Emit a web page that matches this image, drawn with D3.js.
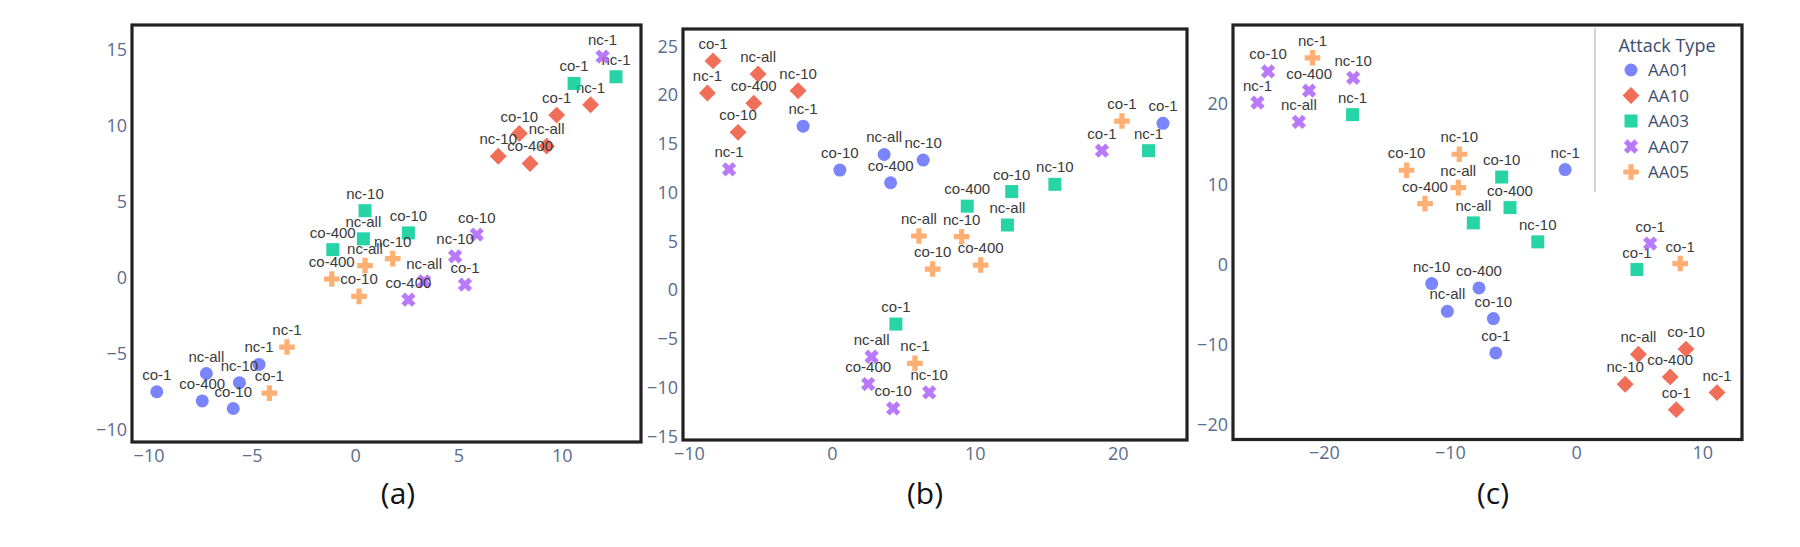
<!DOCTYPE html>
<html>
<head>
<meta charset="utf-8">
<script src="https://cdnjs.cloudflare.com/ajax/libs/d3/7.8.5/d3.min.js"></script>
<style>
    body { margin: 0; background: #fff; }
    #chart { width: 1800px; height: 547px; }
</style>
</head>
<body>
<div id="chart"></div>
<script>
// attack types (traces) and the run configs that label each point
let attackTypes = ["AA01", "AA10", "AA03", "AA07", "AA05"];
let configs = ["co-1", "co-10", "co-400", "nc-1", "nc-10", "nc-all"];

// x / y per panel, rows = attack type, columns = config
let aX = [
    [-9.6, -5.9, -7.4, -4.65, -5.6, -7.2],
    [9.76, 7.95, 8.47, 11.4, 6.93, 9.27],
    [10.6, 2.58, -1.08, 12.63, 0.48, 0.40],
    [5.32, 5.89, 2.58, 11.98, 4.84, 3.34],
    [-4.15, 0.19, -1.13, -3.3, 1.82, 0.48]
];
let aY = [
    [-7.5, -8.6, -8.1, -5.7, -6.9, -6.3],
    [10.68, 9.47, 7.5, 11.36, 7.98, 8.64],
    [12.76, 2.94, 1.84, 13.2, 4.4, 2.55],
    [-0.46, 2.83, -1.45, 14.52, 1.40, -0.24],
    [-7.59, -1.23, -0.09, -4.56, 1.25, 0.79]
];
let bX = [
    [23.16, 0.56, 4.11, -2.01, 6.39, 3.66],
    [-8.31, -6.56, -5.46, -8.70, -2.36, -5.16],
    [4.48, 12.58, 9.47, 22.15, 15.6, 12.28],
    [18.89, 4.29, 2.54, -7.19, 6.81, 2.78],
    [20.29, 7.05, 10.41, 5.81, 9.08, 6.09]
];
let bY = [
    [17.1, 12.3, 11.0, 16.8, 13.33, 13.9],
    [23.5, 16.17, 19.15, 20.2, 20.44, 22.15],
    [-3.49, 10.1, 8.6, 14.29, 10.84, 6.67],
    [14.29, -12.14, -9.64, 12.38, -10.5, -6.84],
    [17.33, 2.15, 2.56, -7.52, 5.47, 5.54]
];
let cX = [
    [-6.37, -6.56, -7.7, -0.87, -11.45, -10.21],
    [7.94, 8.71, 7.46, 11.17, 3.89, 4.94],
    [4.82, -5.9, -5.24, -17.72, -3.04, -8.15],
    [5.87, -24.42, -21.17, -25.26, -17.67, -21.98],
    [8.25, -13.44, -11.98, -20.9, -9.26, -9.34]
];
let cY = [
    [-11.08, -6.79, -2.96, 11.83, -2.42, -5.88],
    [-18.17, -10.6, -14.08, -16.04, -15.0, -11.25],
    [-0.66, 10.9, 7.08, 18.7, 2.8, 5.17],
    [2.59, 24.1, 21.7, 20.2, 23.3, 17.8],
    [0.09, 11.75, 7.58, 25.8, 13.75, 9.58]
];

// tick labels
let aXTicks = [-10, -5, 0, 5, 10];
let aYTicks = [-10, -5, 0, 5, 10, 15];
let bXTicks = [-10, 0, 10, 20];
let bYTicks = [-15, -10, -5, 0, 5, 10, 15, 20, 25];
let cXTicks = [-20, -10, 0, 10];
let cYTicks = [-20, -10, 0, 10, 20];
let panelNames = ["(a)", "(b)", "(c)"];

let colors = ["#636efa", "#EF553B", "#00cc96", "#ab63fa", "#FFA15A"];

// plotly-like marker shapes, size = marker diameter
let shapes = [
    { draw: function(ctx, s) { let r = s / 2; ctx.moveTo(r, 0); ctx.arc(0, 0, r, 0, 2 * Math.PI); } },
    { draw: function(ctx, s) { let r = s / 2 * 1.3; ctx.moveTo(r, 0); ctx.lineTo(0, r); ctx.lineTo(-r, 0); ctx.lineTo(0, -r); ctx.closePath(); } },
    { draw: function(ctx, s) { let r = s / 2; ctx.rect(-r, -r, 2 * r, 2 * r); } },
    { draw: function(ctx, s) {
        // filled x
        let r = s / 2, a = r * 0.8 / Math.SQRT2, b = r * 1.1;
        let pts = [[0, a], [b - a, b], [b, b - a], [a, 0], [b, a - b], [b - a, -b],
                   [0, -a], [a - b, -b], [-b, a - b], [-a, 0], [-b, b - a], [a - b, b]];
        ctx.moveTo(pts[0][0], pts[0][1]);
        pts.slice(1).forEach(function(p) { ctx.lineTo(p[0], p[1]); });
        ctx.closePath();
    } },
    { draw: function(ctx, s) {
        // filled plus
        let r = s / 2, c = r * 0.4, c2 = r * 1.2;
        let pts = [[c2, c], [c, c], [c, c2], [-c, c2], [-c, c], [-c2, c], [-c2, -c],
                   [-c, -c], [-c, -c2], [c, -c2], [c, -c], [c2, -c]];
        ctx.moveTo(pts[0][0], pts[0][1]);
        pts.slice(1).forEach(function(p) { ctx.lineTo(p[0], p[1]); });
        ctx.closePath();
    } }
];

let panels = [
    { xs: aX, ys: aY, xTicks: aXTicks, yTicks: aYTicks, left: 132, right: 641, top: 25, bottom: 442,
      xDom: [-10.8, 13.84], yDom: [-10.8, 16.6], nameX: 398 },
    { xs: bX, ys: bY, xTicks: bXTicks, yTicks: bYTicks, left: 683, right: 1187, top: 29, bottom: 440,
      xDom: [-10.41, 24.84], yDom: [-15.38, 26.77], nameX: 925 },
    { xs: cX, ys: cY, xTicks: cXTicks, yTicks: cYTicks, left: 1233, right: 1742, top: 25, bottom: 439.5,
      xDom: [-27.2, 13.15], yDom: [-21.9, 29.9], nameX: 1493 }
];

let svg = d3.select("#chart").append("svg")
    .attr("width", 1800)
    .attr("height", 547);

let tickColor = "#596c8c";
let symbol = d3.symbol().size(13);

panels.forEach(function(p, pi) {
    let x = d3.scaleLinear().domain(p.xDom).range([p.left, p.right]);
    let y = d3.scaleLinear().domain(p.yDom).range([p.bottom, p.top]);

    let g = svg.append("g").attr("class", "panel");

    // axes (labels only, no lines)
    let xAxis = g.append("g")
        .attr("transform", "translate(0," + (p.bottom + 7) + ")")
        .call(d3.axisBottom(x).tickValues(p.xTicks).tickSize(0).tickPadding(0));
    let yAxis = g.append("g")
        .attr("transform", "translate(" + (p.left - 5) + ",0)")
        .call(d3.axisLeft(y).tickValues(p.yTicks).tickSize(0).tickPadding(0));
    [xAxis, yAxis].forEach(function(ax) {
        ax.select(".domain").remove();
        ax.selectAll("text")
            .style("font-family", "'Open Sans', sans-serif")
            .style("font-size", "18px")
            .style("fill", tickColor);
    });
    xAxis.selectAll("text").attr("dy", "0.71em");

    // traces: markers then text, one group per attack type
    attackTypes.forEach(function(t, ti) {
        let pts = configs.map(function(c, ci) { return { label: c, x: p.xs[ti][ci], y: p.ys[ti][ci] }; });
        let tg = g.append("g").attr("class", t);
        tg.selectAll("path")
            .data(pts)
            .enter().append("path")
            .attr("transform", function(d) { return "translate(" + x(d.x) + "," + y(d.y) + ")"; })
            .attr("d", symbol.type(shapes[ti]))
            .style("fill", colors[ti])
            .style("opacity", 0.85);
        tg.selectAll("text")
            .data(pts)
            .enter().append("text")
            .attr("x", function(d) { return x(d.x); })
            .attr("y", function(d) { return y(d.y) - 12; })
            .attr("text-anchor", "middle")
            .style("font-family", "'Liberation Sans', Arial, sans-serif")
            .style("font-size", "15px")
            .style("fill", "#3a3a3a")
            .text(function(d) { return d.label; });
    });

    // frame
    g.append("rect")
        .attr("x", p.left).attr("y", p.top)
        .attr("width", p.right - p.left).attr("height", p.bottom - p.top)
        .style("fill", "none")
        .style("stroke", "#222")
        .style("stroke-width", 3.2);

    // panel letter
    svg.append("text")
        .attr("x", p.nameX).attr("y", 504)
        .attr("text-anchor", "middle")
        .style("font-family", "'Open Sans', sans-serif")
        .style("font-size", "30px")
        .style("fill", "#111")
        .text(panelNames[pi]);
});

// Legend inside panel (c)
let legend = svg.append("g").attr("class", "legend");
legend.append("line")
    .attr("x1", 1595).attr("x2", 1595).attr("y1", 28).attr("y2", 192)
    .style("stroke", "#c8c8c8").style("stroke-width", 1.5);
legend.append("text")
    .attr("x", 1667).attr("y", 52)
    .attr("text-anchor", "middle")
    .style("font-family", "'Open Sans', sans-serif")
    .style("font-size", "18px")
    .style("fill", "#3b4d6e")
    .text("Attack Type");
let items = legend.selectAll(".item")
    .data(attackTypes)
    .enter().append("g")
    .attr("class", "item")
    .attr("transform", function(d, i) { return "translate(1631," + (70 + i * 25.5) + ")"; });
items.append("path")
    .attr("d", function(d, i) { return symbol.type(shapes[i])(); })
    .style("fill", function(d, i) { return colors[i]; })
    .style("opacity", 0.85);
items.append("text")
    .attr("x", 17).attr("y", 6)
    .style("font-family", "'Open Sans', sans-serif")
    .style("font-size", "17px")
    .style("fill", "#3b4d6e")
    .text(function(d) { return d; });
</script>
</body>
</html>
